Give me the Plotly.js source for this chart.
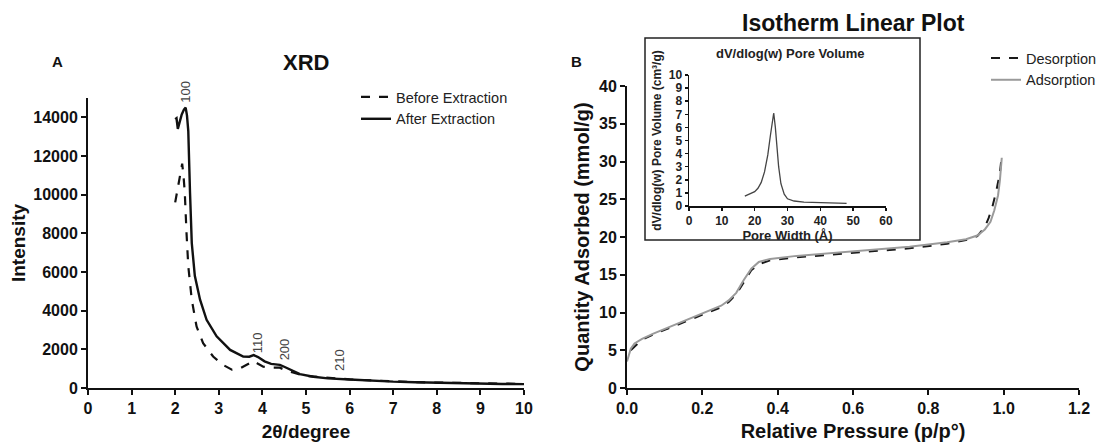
<!DOCTYPE html>
<html>
<head>
<meta charset="utf-8">
<script src="https://cdn.plot.ly/plotly-3.0.1.min.js"></script>
<style>html,body{margin:0;padding:0;background:#fff;}#chart{width:1103px;height:446px;}</style>
</head>
<body>
<div id="chart"></div>
<script>
// ---- Panel A: XRD ----
const xrdAfterX = [2.00, 2.03, 2.06, 2.10, 2.15, 2.20, 2.24, 2.27, 2.30, 2.34, 2.38, 2.45, 2.57, 2.72, 2.95, 3.26, 3.56, 3.70, 3.80, 3.90, 4.05, 4.20, 4.40, 4.50, 4.63, 4.86, 5.17, 5.50, 6.00, 6.50, 7.00, 7.50, 8.00, 8.50, 9.00, 9.50, 10.00];
const xrdAfterY = [13900, 13950, 13400, 13800, 14150, 14400, 14500, 14100, 13300, 10100, 7500, 5800, 4570, 3530, 2670, 1970, 1630, 1620, 1700, 1600, 1380, 1250, 1200, 1100, 950, 720, 580, 500, 440, 380, 330, 300, 270, 250, 230, 210, 200];
const xrdBeforeX = [2.00, 2.05, 2.10, 2.16, 2.19, 2.22, 2.26, 2.30, 2.38, 2.49, 2.64, 2.87, 3.10, 3.30, 3.49, 3.68, 3.80, 3.90, 4.02, 4.20, 4.40, 4.50, 4.70, 5.00, 5.50, 6.00, 6.50, 7.00, 7.50, 8.00, 8.50, 9.00, 9.50, 10.00];
const xrdBeforeY = [9600, 10300, 11000, 11600, 11000, 10100, 8000, 6300, 4570, 3180, 2320, 1630, 1190, 950, 1020, 1280, 1400, 1250, 1100, 1050, 1050, 950, 800, 620, 520, 450, 390, 340, 310, 280, 260, 240, 220, 210];
const peakLabels = ["100", "110", "200", "210"];
const peakX = [2.25, 3.89, 4.51, 5.78];
const peakY = [14600, 2350, 1980, 1450];

// ---- Panel B: Isotherm ----
const adsX = [0.0, 0.005, 0.01, 0.02, 0.04, 0.07, 0.10, 0.15, 0.20, 0.25, 0.27, 0.29, 0.31, 0.33, 0.35, 0.38, 0.45, 0.55, 0.65, 0.75, 0.85, 0.90, 0.93, 0.95, 0.965, 0.975, 0.985, 0.99, 0.995];
const adsY = [3.5, 4.5, 5.2, 5.9, 6.5, 7.2, 7.8, 8.8, 9.8, 10.9, 11.6, 12.6, 14.3, 15.8, 16.7, 17.1, 17.5, 17.9, 18.3, 18.7, 19.3, 19.7, 20.2, 21.0, 22.0, 23.5, 25.5, 27.5, 30.5];
const desX = [0.01, 0.04, 0.07, 0.10, 0.15, 0.20, 0.25, 0.27, 0.29, 0.31, 0.33, 0.35, 0.38, 0.45, 0.55, 0.65, 0.75, 0.85, 0.90, 0.93, 0.95, 0.96, 0.97, 0.98, 0.99, 0.995];
const desY = [5.0, 6.4, 7.1, 7.7, 8.7, 9.6, 10.7, 11.4, 12.4, 14.0, 15.6, 16.4, 16.9, 17.3, 17.7, 18.1, 18.5, 19.1, 19.6, 20.1, 21.3, 22.5, 24.0, 26.0, 28.5, 30.8];

// ---- Inset: pore volume ----
const poreX = [17, 18, 19, 20, 21, 22, 23, 24, 24.8, 25.4, 25.8, 26.3, 26.8, 27.3, 28, 29, 30, 32, 35, 40, 45, 48];
const poreY = [0.75, 0.85, 0.95, 1.1, 1.35, 1.8, 2.6, 3.9, 5.4, 6.6, 7.1, 6.0, 4.5, 3.0, 1.7, 0.9, 0.55, 0.38, 0.3, 0.25, 0.22, 0.2];

const W = 1103, H = 446;
const px = v => v / W;
const py = v => 1 - v / H;
const FONT = 'Liberation Sans, Arial, Helvetica, sans-serif';

const traces = [
  {x: xrdBeforeX, y: xrdBeforeY, xaxis: 'x', yaxis: 'y', mode: 'lines', name: 'Before Extraction',
   line: {color: '#111', width: 2.2, dash: 'dash'}, legend: 'legend'},
  {x: xrdAfterX, y: xrdAfterY, xaxis: 'x', yaxis: 'y', mode: 'lines', name: 'After Extraction',
   line: {color: '#111', width: 2.4}, legend: 'legend'},
  {x: desX, y: desY, xaxis: 'x2', yaxis: 'y2', mode: 'lines', name: 'Desorption',
   line: {color: '#1a1a1a', width: 2, dash: 'dash'}, legend: 'legend2'},
  {x: adsX, y: adsY, xaxis: 'x2', yaxis: 'y2', mode: 'lines', name: 'Adsorption',
   line: {color: '#9a9a9a', width: 2}, legend: 'legend2'},
  {x: poreX, y: poreY, xaxis: 'x3', yaxis: 'y3', mode: 'lines', name: 'Pore volume',
   line: {color: '#444', width: 1.3}, showlegend: false}
];

function ax(extra) {
  return Object.assign({
    showline: true, linecolor: '#111', linewidth: 2, ticks: 'outside', ticklen: 5, tickwidth: 2,
    tickcolor: '#111', showgrid: false, zeroline: false, fixedrange: true,
    tickfont: {family: FONT, size: 16, color: '#111', weight: 'bold'}
  }, extra);
}

const layout = {
  width: W, height: H,
  margin: {l: 0, r: 0, t: 0, b: 0},
  paper_bgcolor: '#fff', plot_bgcolor: 'rgba(0,0,0,0)',
  font: {family: FONT, color: '#111'},
  xaxis: ax({domain: [px(88), px(524)], range: [0, 10], dtick: 1, anchor: 'y',
    title: {text: '2θ/degree', font: {family: FONT, size: 19, weight: 'bold'}, standoff: 8}}),
  yaxis: ax({domain: [py(388), py(98)], range: [0, 15000], tickvals: [0, 2000, 4000, 6000, 8000, 10000, 12000, 14000], tickformat: 'd', anchor: 'x',
    title: {text: 'Intensity', font: {family: FONT, size: 19, weight: 'bold'}, standoff: 3}}),
  xaxis2: ax({domain: [px(627), px(1079)], range: [0, 1.2], dtick: 0.2, tickformat: '.1f', anchor: 'y2',
    title: {text: 'Relative Pressure (p/p°)', font: {family: FONT, size: 20, weight: 'bold'}, standoff: 8}}),
  yaxis2: ax({domain: [py(388), py(86)], range: [0, 40], dtick: 5, anchor: 'x2',
    title: {text: 'Quantity Adsorbed (mmol/g)', font: {family: FONT, size: 20, weight: 'bold'}, standoff: 4}}),
  xaxis3: ax({domain: [px(689), px(886)], range: [0, 60], dtick: 10, anchor: 'y3', linewidth: 1.5, tickwidth: 1.5, ticklen: 3,
    tickfont: {family: FONT, size: 12, color: '#222', weight: 'bold'},
    title: {text: 'Pore Width (Å)', font: {family: FONT, size: 13, weight: 'bold', color: '#222'}, standoff: 2}}),
  yaxis3: ax({domain: [py(206), py(75)], range: [0, 10], dtick: 1, anchor: 'x3', linewidth: 1.5, tickwidth: 1.5, ticklen: 3,
    tickfont: {family: FONT, size: 12, color: '#222', weight: 'bold'},
    title: {text: 'dV/dlog(w) Pore Volume (cm³/g)', font: {family: FONT, size: 12, weight: 'bold', color: '#222'}, standoff: 4}}),
  legend: {x: px(356), y: py(81), xanchor: 'left', yanchor: 'top', bgcolor: 'rgba(0,0,0,0)',
    font: {family: FONT, size: 14.5, color: '#222'}},
  legend2: {x: px(986), y: py(42), xanchor: 'left', yanchor: 'top', bgcolor: 'rgba(0,0,0,0)',
    font: {family: FONT, size: 14.5, color: '#222'}},
  shapes: [
    {type: 'rect', xref: 'paper', yref: 'paper', x0: px(645), x1: px(920), y0: py(240), y1: py(38),
     line: {color: '#222', width: 1.5}, fillcolor: 'rgba(0,0,0,0)', layer: 'below'}
  ],
  annotations: [
    {text: 'XRD', xref: 'paper', yref: 'paper', x: px(306), y: py(63), showarrow: false, xanchor: 'center', yanchor: 'middle',
     font: {family: FONT, size: 22, weight: 'bold', color: '#111'}},
    {text: 'Isotherm Linear Plot', xref: 'paper', yref: 'paper', x: px(853), y: py(23), showarrow: false, xanchor: 'center', yanchor: 'middle',
     font: {family: FONT, size: 23, weight: 'bold', color: '#111'}},
    {text: 'A', xref: 'paper', yref: 'paper', x: px(57), y: py(61), showarrow: false, xanchor: 'center', yanchor: 'middle',
     font: {family: FONT, size: 15, weight: 'bold', color: '#111'}},
    {text: 'B', xref: 'paper', yref: 'paper', x: px(576), y: py(61), showarrow: false, xanchor: 'center', yanchor: 'middle',
     font: {family: FONT, size: 15, weight: 'bold', color: '#111'}},
    {text: 'dV/dlog(w) Pore Volume', xref: 'paper', yref: 'paper', x: px(790), y: py(53), showarrow: false, xanchor: 'center', yanchor: 'middle',
     font: {family: FONT, size: 13, weight: 'bold', color: '#222'}}
  ]
};

peakLabels.forEach((t, i) => {
  layout.annotations.push({text: t, xref: 'x', yref: 'y', x: peakX[i], y: peakY[i], showarrow: false,
    textangle: -90, yanchor: 'middle', xanchor: 'center', yshift: i === 0 ? 14 : 0,
    font: {family: FONT, size: 13, color: '#444'}});
});

Plotly.newPlot('chart', traces, layout, {staticPlot: true, displayModeBar: false});
</script>
</body>
</html>
